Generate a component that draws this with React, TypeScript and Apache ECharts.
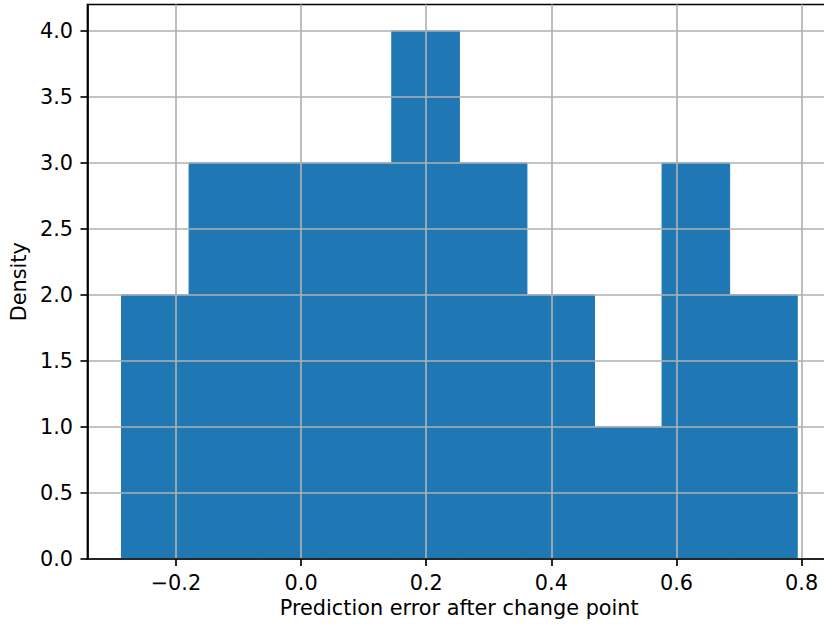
import React, { useEffect, useRef } from "react";
import * as echarts from "echarts";

// Histogram bin edges and per-bin density
const binEdges = [-0.287, -0.179, -0.071, 0.037, 0.145, 0.253, 0.361, 0.469, 0.577, 0.685, 0.793];
const densities = [2, 3, 3, 3, 4, 3, 2, 1, 3, 2];

const xTicks = [-0.2, 0.0, 0.2, 0.4, 0.6, 0.8];
const yTicks = [0, 0.5, 1.0, 1.5, 2.0, 2.5, 3.0, 3.5, 4.0];

const xLabel = "Prediction error after change point";
const yLabel = "Density";

const FONT = "DejaVu Sans";
const FONT_SIZE = 20.8;
const LINE_W = 1.67;
const fmt = (v: number) => v.toFixed(1).replace("-", "\u2212");

export default function App() {
  const ref = useRef<HTMLDivElement>(null);

  useEffect(() => {
    if (!ref.current) return;
    const chart = echarts.init(ref.current, null, { renderer: "svg" });

    const bins = densities.map((d, i) => [binEdges[i], binEdges[i + 1], d]);

    chart.setOption({
      animation: false,
      backgroundColor: "#ffffff",
      grid: {
        left: 87,
        right: 0,
        top: 4.5,
        bottom: 65,
        show: true,
        borderColor: "#000000",
        borderWidth: LINE_W,
        backgroundColor: "transparent",
      },
      xAxis: {
        type: "value",
        min: -0.3414,
        max: 0.847,
        z: 3,
        name: xLabel,
        nameLocation: "middle",
        nameGap: 38.5,
        nameTextStyle: { fontFamily: FONT, fontSize: FONT_SIZE, color: "#000" },
        axisLine: { show: true, onZero: false, lineStyle: { color: "#000", width: LINE_W } },
        axisTick: {
          show: true,
          customValues: xTicks,
          length: 7,
          lineStyle: { color: "#000", width: LINE_W },
        },
        axisLabel: {
          customValues: xTicks,
          formatter: fmt,
          fontFamily: FONT,
          fontSize: FONT_SIZE,
          color: "#000",
          margin: 13,
        },
        splitLine: { show: true, lineStyle: { color: "#b0b0b0", width: LINE_W } },
      },
      yAxis: {
        type: "value",
        min: 0,
        max: 4.2,
        z: 3,
        name: yLabel,
        nameLocation: "middle",
        nameGap: 58,
        nameRotate: 90,
        nameTextStyle: { fontFamily: FONT, fontSize: FONT_SIZE, color: "#000" },
        axisLine: { show: true, onZero: false, lineStyle: { color: "#000", width: LINE_W } },
        axisTick: {
          show: true,
          customValues: yTicks,
          length: 7,
          lineStyle: { color: "#000", width: LINE_W },
        },
        axisLabel: {
          customValues: yTicks,
          formatter: fmt,
          fontFamily: FONT,
          fontSize: FONT_SIZE,
          color: "#000",
          margin: 14.5,
        },
        splitLine: { show: true, lineStyle: { color: "#b0b0b0", width: LINE_W } },
      },
      series: [
        {
          type: "custom",
          z: 1,
          data: bins,
          encode: { x: [0, 1], y: 2 },
          renderItem: (params: any, api: any) => {
            const p0 = api.coord([api.value(0), api.value(2)]);
            const p1 = api.coord([api.value(1), 0]);
            return {
              type: "rect",
              shape: { x: p0[0], y: p0[1], width: p1[0] - p0[0], height: p1[1] - p0[1] },
              style: { fill: "#1f77b4", stroke: "#1f77b4", lineWidth: 1 },
            };
          },
        },
      ],
    });

    return () => chart.dispose();
  }, []);

  return (
    <div
      ref={ref}
      style={{ position: "fixed", left: 0, top: 0, width: 831, height: 624 }}
    />
  );
}
